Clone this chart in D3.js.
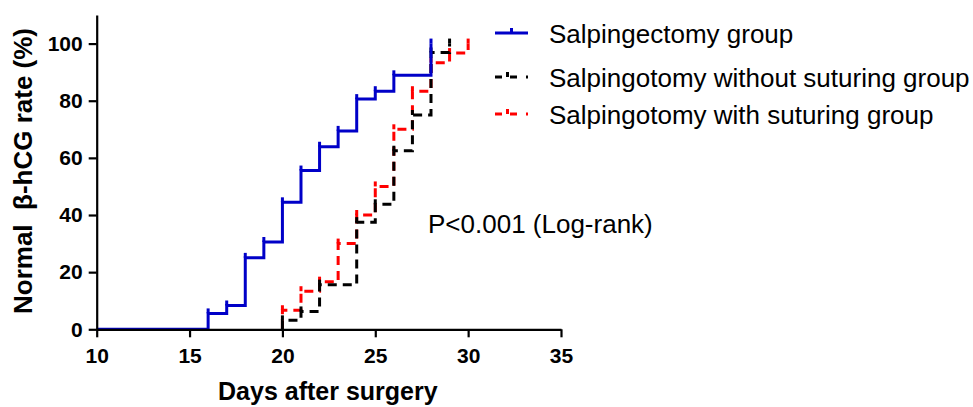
<!DOCTYPE html>
<html>
<head>
<meta charset="utf-8">
<script src="https://cdn.jsdelivr.net/npm/d3@7"></script>
<style>
  html, body { margin: 0; padding: 0; background: #fff; }
  svg { display: block; }
  text { font-family: Arial, "Liberation Sans", sans-serif; }
</style>
</head>
<body>
<svg id="chart" width="973" height="407"></svg>
<script>
// ---- data ----
const seriesNames = ["Salpingectomy group", "Salpingotomy without suturing group", "Salpingotomy with suturing group"];
const ectomyDays   = [10, 16, 17, 18, 19, 20, 21, 22, 23, 24, 25, 26, 28];
const ectomyRate   = [0, 5.56, 8.33, 25, 30.56, 44.44, 55.56, 63.89, 69.44, 80.56, 83.33, 88.89, 100];
const noSutureDays = [20, 20, 21, 22, 24, 25, 26, 27, 28, 29];
const noSutureRate = [0, 3.13, 6.25, 15.63, 37.5, 43.75, 62.5, 75, 96.88, 100];
const sutureDays   = [20, 20, 21, 22, 23, 24, 25, 26, 27, 28, 29, 30];
const sutureRate   = [0, 6.67, 13.33, 16.67, 30, 40, 50, 70, 83.33, 93.33, 96.67, 100];
const xTicks = [10, 15, 20, 25, 30, 35];
const yTicks = [0, 20, 40, 60, 80, 100];
const pText = "P<0.001 (Log-rank)";

// ---- layout ----
const svg = d3.select("#chart");
const x = d3.scaleLinear().domain([10, 35]).range([96.7, 561]);
const y = d3.scaleLinear().domain([0, 110]).range([329.3, 15]);

const colors = ["#0000c8", "#000000", "#ff0000"];
const dashes = [null, "9,6", "9,6"];

const series = [
  { days: sutureDays, rate: sutureRate, idx: 2 },
  { days: noSutureDays, rate: noSutureRate, idx: 1 },
  { days: ectomyDays, rate: ectomyRate, idx: 0 }
];

const line = d3.line().x(d => x(d[0])).y(d => y(d[1])).curve(d3.curveStepAfter);

series.forEach(s => {
  const pts = s.days.map((d, i) => [d, s.rate[i]]);
  svg.append("path")
    .attr("d", line(pts))
    .attr("fill", "none")
    .attr("stroke", colors[s.idx])
    .attr("stroke-width", 3)
    .attr("stroke-dasharray", dashes[s.idx]);
  // censor / step ticks
  svg.selectAll(null)
    .data(pts.filter(p => p[1] > 0))
    .enter().append("line")
    .attr("x1", d => x(d[0])).attr("x2", d => x(d[0]))
    .attr("y1", d => y(d[1])).attr("y2", d => y(d[1]) - 5)
    .attr("stroke", colors[s.idx])
    .attr("stroke-width", 3);
});

// ---- axes ----
const xAxis = d3.axisBottom(x).tickValues(xTicks).tickSize(8).tickSizeOuter(0).tickPadding(11);
const yAxis = d3.axisLeft(y).tickValues(yTicks).tickSize(8).tickSizeOuter(0).tickPadding(6);

const gx = svg.append("g").attr("transform", `translate(0,${y(0)})`).call(xAxis);
const gy = svg.append("g").attr("transform", `translate(${x(10)},0)`).call(yAxis);
[gx, gy].forEach(g => {
  g.select(".domain").attr("stroke", "#000").attr("stroke-width", 2.2);
  g.selectAll(".tick line").attr("stroke", "#000").attr("stroke-width", 2.2);
  g.selectAll(".tick text").attr("fill", "#000")
    .style("font-size", "21px").style("font-weight", "bold")
    .style("font-family", "Arial, 'Liberation Sans', sans-serif");
});

// axis titles
svg.append("text")
  .attr("x", (x(10) + x(35)) / 2 - 1).attr("y", 400)
  .attr("text-anchor", "middle")
  .style("font-size", "25px").style("font-weight", "bold")
  .text("Days after surgery");

svg.append("text")
  .attr("transform", `translate(32,171) rotate(-90)`)
  .attr("text-anchor", "middle")
  .style("font-size", "26px").style("font-weight", "bold")
  .style("white-space", "pre")
  .attr("xml:space", "preserve")
  .text("Normal  \u03B2-hCG rate (%)");

// p-value annotation
svg.append("text")
  .attr("x", 428).attr("y", 233)
  .style("font-size", "26px")
  .text(pText);

// ---- legend ----
const legY = [33, 77, 114];
const lx0 = 495, lx1 = 528;
seriesNames.forEach((name, i) => {
  const g = svg.append("g");
  if (i === 0) {
    g.append("line").attr("x1", lx0).attr("x2", lx1).attr("y1", legY[i]).attr("y2", legY[i])
      .attr("stroke", colors[i]).attr("stroke-width", 3);
  } else {
    g.append("line").attr("x1", lx0).attr("x2", lx1).attr("y1", legY[i]).attr("y2", legY[i])
      .attr("stroke", colors[i]).attr("stroke-width", 3)
      .attr("stroke-dasharray", "7,8,7,9,2");
  }
  g.append("line").attr("x1", (lx0 + lx1) / 2 - (i === 0 ? 0 : 4)).attr("x2", (lx0 + lx1) / 2 - (i === 0 ? 0 : 4))
    .attr("y1", legY[i]).attr("y2", legY[i] - 5)
    .attr("stroke", colors[i]).attr("stroke-width", 3);
  g.append("text")
    .attr("x", 549).attr("y", legY[i] + 10)
    .style("font-size", "26px")
    .text(name);
});
</script>
</body>
</html>
